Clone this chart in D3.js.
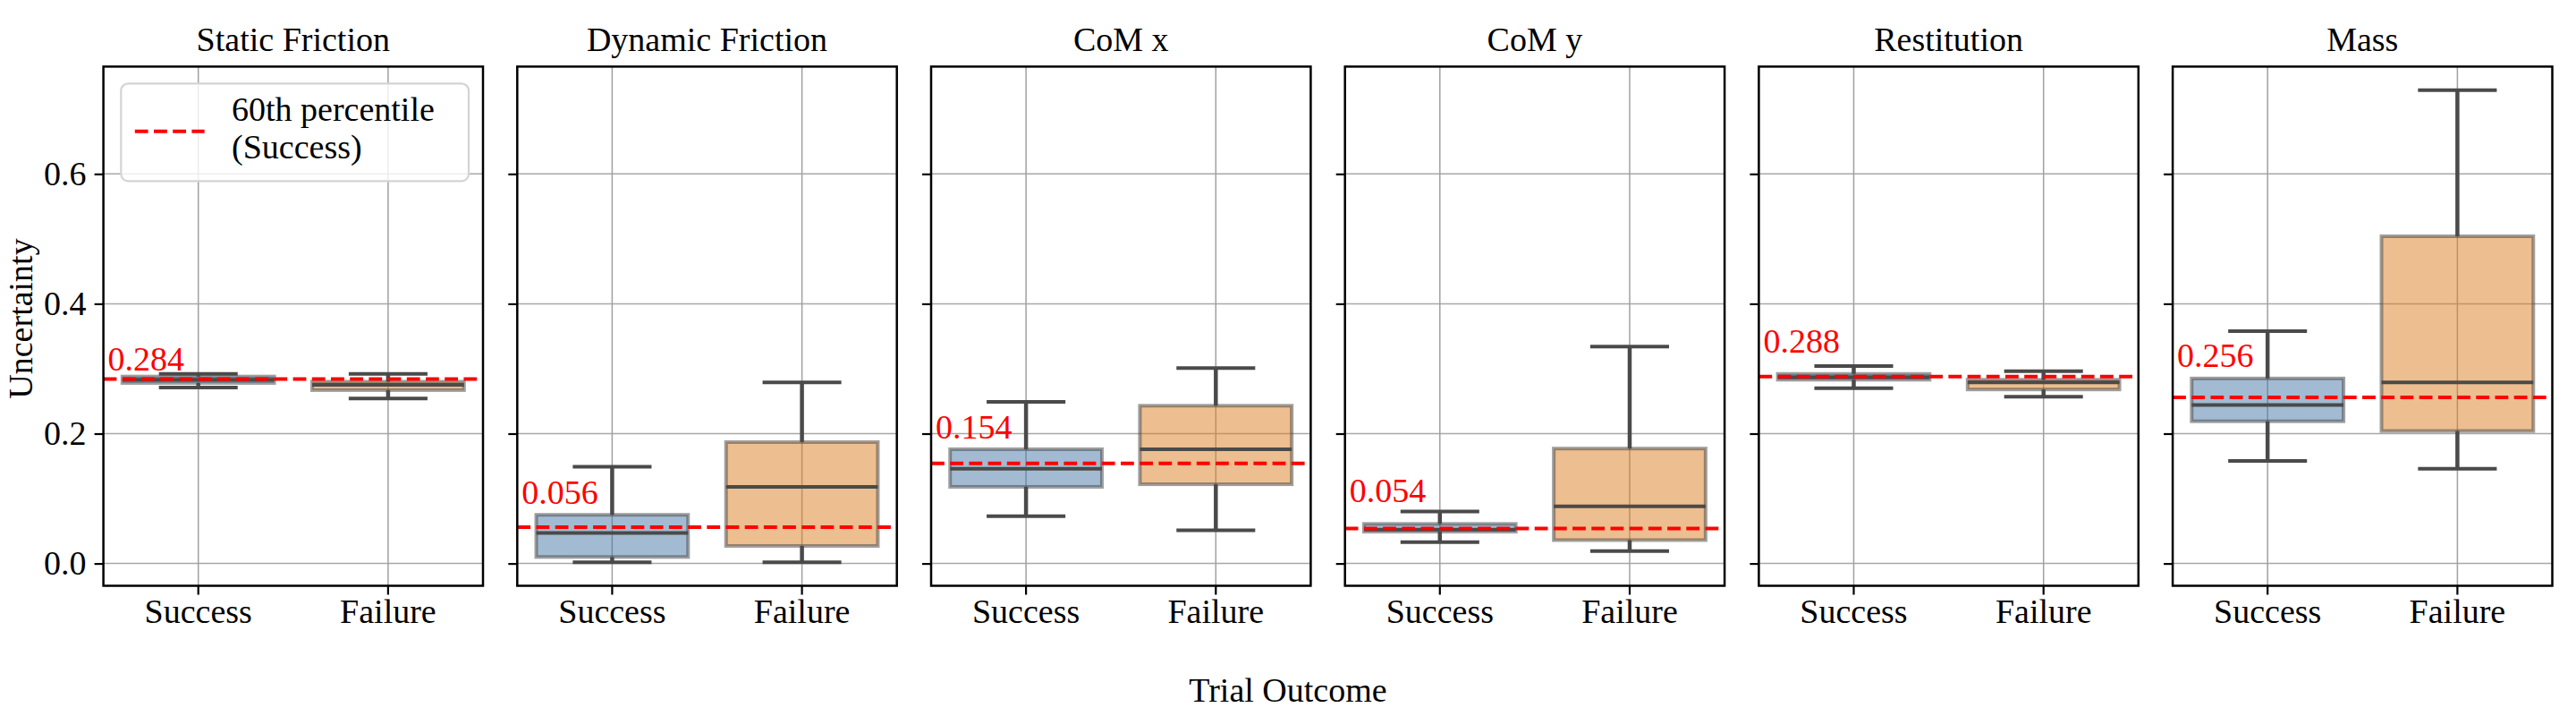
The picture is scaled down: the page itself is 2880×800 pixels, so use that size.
<!DOCTYPE html>
<html>
<head>
<meta charset="utf-8">
<script src="https://cdn.jsdelivr.net/npm/d3@7"></script>
<style>
  body { margin: 0; background: white; }
</style>
</head>
<body>
<div id="chart"></div>
<script>
// datos: un panel por parametro, cajas [min, q1, mediana, q3, max]
const panels = ['Static Friction', 'Dynamic Friction', 'CoM x', 'CoM y', 'Restitution', 'Mass'];
const outcomes = ['Success', 'Failure'];

const successStats = [
  [0.271, 0.278, 0.283, 0.288, 0.292],
  [0.002, 0.010, 0.047, 0.075, 0.149],
  [0.073, 0.118, 0.146, 0.176, 0.249],
  [0.033, 0.049, 0.052, 0.061, 0.080],
  [0.270, 0.283, 0.287, 0.292, 0.304],
  [0.158, 0.219, 0.244, 0.285, 0.358]
];
const failureStats = [
  [0.254, 0.267, 0.275, 0.280, 0.292],
  [0.002, 0.027, 0.118, 0.187, 0.279],
  [0.051, 0.122, 0.176, 0.243, 0.301],
  [0.019, 0.036, 0.088, 0.177, 0.334],
  [0.257, 0.268, 0.279, 0.283, 0.296],
  [0.146, 0.204, 0.279, 0.504, 0.729]
];
const thresholds = [0.284, 0.056, 0.154, 0.054, 0.288, 0.256];
const thresholdLabels = ['0.284', '0.056', '0.154', '0.054', '0.288', '0.256'];
const yTicks = [0.0, 0.2, 0.4, 0.6];

// layout
const width = 2880;
const height = 800;
const axLeft = 115.6;
const axWidth = 424.4;
const axStep = 462.7;
const axTop = 74.4;
const axBottom = 654.5;
const labelLift = [10, 26, 28, 29, 27, 34]; // px encima de la linea roja
const fontFamily = '"Liberation Serif", "DejaVu Serif", "Liberation Sans", sans-serif';
const fontSize = 38;

const boxFill = ['#4577a5', '#db7d1f'];
const lineGray = '#4a4a4a';

const svg = d3.select('#chart')
  .append('svg')
  .attr('width', width)
  .attr('height', height)
  .attr('font-family', fontFamily);

// escala y compartida, con 5% de margen como matplotlib
const allVals = successStats.concat(failureStats).flat();
const lo = d3.min(allVals);
const hi = d3.max(allVals);
const pad = (hi - lo) * 0.05;
const y = d3.scaleLinear()
  .domain([lo - pad, hi + pad])
  .range([axBottom, axTop]);

const x = d3.scaleBand()
  .domain(outcomes)
  .range([0, axWidth]);
const band = x.bandwidth();
const boxW = band * 0.8;
const capW = band * 0.415;

panels.forEach((name, i) => {
  const g = svg.append('g')
    .attr('transform', `translate(${axLeft + i * axStep}, 0)`);

  // rejilla
  g.append('g')
    .selectAll('line')
    .data(yTicks)
    .enter()
    .append('line')
    .attr('x1', 0)
    .attr('x2', axWidth)
    .attr('y1', d => y(d))
    .attr('y2', d => y(d))
    .attr('stroke', '#a8a8a8')
    .attr('stroke-width', 1.5);

  g.append('g')
    .selectAll('line')
    .data(outcomes)
    .enter()
    .append('line')
    .attr('x1', d => x(d) + band / 2)
    .attr('x2', d => x(d) + band / 2)
    .attr('y1', axTop)
    .attr('y2', axBottom)
    .attr('stroke', '#a0a0a0')
    .attr('stroke-width', 1.5);

  const stats = [successStats[i], failureStats[i]];

  stats.forEach((s, k) => {
    const cx = x(outcomes[k]) + band / 2;
    const box = g.append('g');

    box.append('rect')
      .attr('x', cx - boxW / 2)
      .attr('y', y(s[3]))
      .attr('width', boxW)
      .attr('height', y(s[1]) - y(s[3]))
      .attr('fill', boxFill[k])
      .attr('fill-opacity', 0.5)
      .attr('stroke', '#3f3f3f')
      .attr('stroke-opacity', 0.5)
      .attr('stroke-width', 4);

    // bigotes
    box.append('line')
      .attr('x1', cx).attr('x2', cx)
      .attr('y1', y(s[3])).attr('y2', y(s[4]))
      .attr('stroke', lineGray).attr('stroke-width', 4.5);
    box.append('line')
      .attr('x1', cx).attr('x2', cx)
      .attr('y1', y(s[1])).attr('y2', y(s[0]))
      .attr('stroke', lineGray).attr('stroke-width', 4.5);

    // caps
    [s[0], s[4]].forEach(v => {
      box.append('line')
        .attr('x1', cx - capW / 2).attr('x2', cx + capW / 2)
        .attr('y1', y(v)).attr('y2', y(v))
        .attr('stroke', lineGray).attr('stroke-width', 4);
    });

    // mediana
    box.append('line')
      .attr('x1', cx - boxW / 2).attr('x2', cx + boxW / 2)
      .attr('y1', y(s[2])).attr('y2', y(s[2]))
      .attr('stroke', lineGray).attr('stroke-width', 4);
  });

  // percentil 60
  g.append('line')
    .attr('x1', 0)
    .attr('x2', axWidth)
    .attr('y1', y(thresholds[i]))
    .attr('y2', y(thresholds[i]))
    .attr('stroke', 'red')
    .attr('stroke-width', 4)
    .attr('stroke-dasharray', '14.8,6.4');

  g.append('text')
    .attr('x', 5)
    .attr('y', y(thresholds[i]) - labelLift[i])
    .attr('fill', 'red')
    .attr('font-size', fontSize)
    .text(thresholdLabels[i]);

  // marco
  g.append('rect')
    .attr('x', 0)
    .attr('y', axTop)
    .attr('width', axWidth)
    .attr('height', axBottom - axTop)
    .attr('fill', 'none')
    .attr('stroke', 'black')
    .attr('stroke-width', 2.5);

  // ejes
  const yAxis = d3.axisLeft(y)
    .tickValues(yTicks)
    .tickSize(10)
    .tickPadding(9)
    .tickFormat(i === 0 ? d3.format('.1f') : '');
  const gy = g.append('g').call(yAxis);
  gy.attr('font-family', fontFamily).attr('font-size', fontSize);
  gy.select('.domain').remove();
  gy.selectAll('line').attr('stroke-width', 2.2);
  gy.selectAll('text').attr('fill', 'black');

  const xAxis = d3.axisBottom(x)
    .tickSize(10)
    .tickPadding(5);
  const gx = g.append('g')
    .attr('transform', `translate(0, ${axBottom})`)
    .call(xAxis);
  gx.attr('font-family', fontFamily).attr('font-size', fontSize);
  gx.select('.domain').remove();
  gx.selectAll('line').attr('stroke-width', 2.2);
  gx.selectAll('text').attr('fill', 'black');

  // titulo
  g.append('text')
    .attr('x', axWidth / 2)
    .attr('y', 57)
    .attr('text-anchor', 'middle')
    .attr('font-size', fontSize)
    .text(name);
});

// leyenda en el primer panel
const legend = svg.append('g').attr('class', 'legend');
legend.append('rect')
  .attr('x', 135.3)
  .attr('y', 93.3)
  .attr('width', 388.7)
  .attr('height', 109)
  .attr('rx', 8)
  .attr('fill', 'white')
  .attr('fill-opacity', 0.8)
  .attr('stroke', '#d4d4d4')
  .attr('stroke-width', 2.2);
legend.append('line')
  .attr('x1', 150.8)
  .attr('x2', 228.6)
  .attr('y1', 146.7)
  .attr('y2', 146.7)
  .attr('stroke', 'red')
  .attr('stroke-width', 4)
  .attr('stroke-dasharray', '14.8,6.4');
legend.append('text')
  .attr('x', 259)
  .attr('y', 135)
  .attr('font-size', fontSize)
  .text('60th percentile');
legend.append('text')
  .attr('x', 259)
  .attr('y', 176.7)
  .attr('font-size', fontSize)
  .text('(Success)');

// etiquetas de ejes
svg.append('text')
  .attr('x', 1440)
  .attr('y', 784)
  .attr('text-anchor', 'middle')
  .attr('font-size', fontSize)
  .text('Trial Outcome');

svg.append('text')
  .attr('transform', 'translate(36, 356) rotate(-90)')
  .attr('text-anchor', 'middle')
  .attr('font-size', fontSize)
  .text('Uncertainty');
</script>
</body>
</html>
